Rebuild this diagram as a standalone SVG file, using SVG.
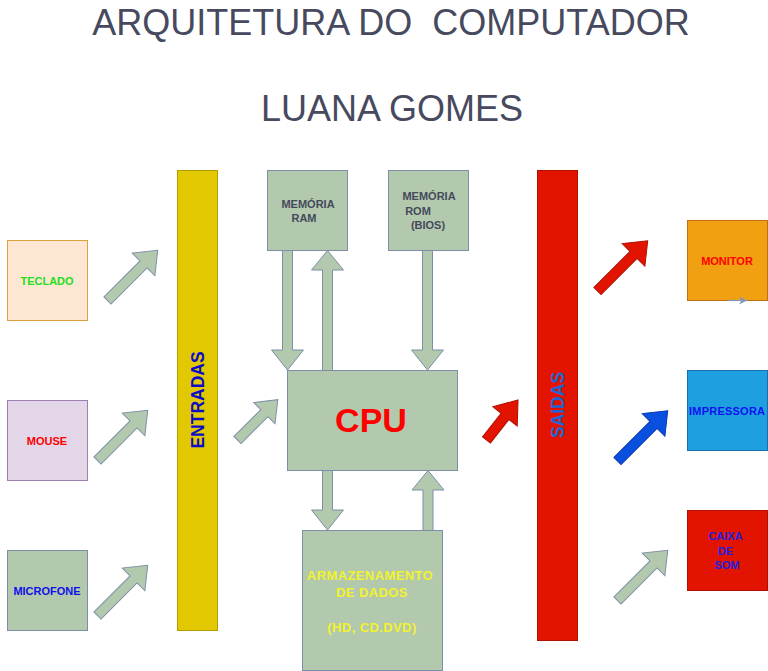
<svg xmlns="http://www.w3.org/2000/svg" xmlns:xlink="http://www.w3.org/1999/xlink" width="768" height="671" viewBox="0 0 768 671">
<style>
.t{font-family:"Liberation Sans",Arial,sans-serif;font-weight:bold;text-anchor:middle}
.title{font-family:"Liberation Sans",Arial,sans-serif;font-size:36px;fill:#474a5e;text-anchor:middle;white-space:pre}
.s11{font-size:11px}
.g{fill:#b3c9ad;stroke:#7d8fa8;stroke-width:1}
.ga{fill:#b3c9ad;stroke:#7d8fa8;stroke-width:1}
.ra{fill:#e21400;stroke:#b01000;stroke-width:1}
.ba{fill:#0a50e0;stroke:#0838b0;stroke-width:1}
</style>
<defs>
<path id="a71" d="M0,-5 H51 V-16 L71,0 L51,16 V5 H0 Z"/>
<path id="a57" d="M0,-5 H38 V-15 L57,0 L38,15 V5 H0 Z"/>
<path id="a51" d="M0,-5 H30 V-15.5 L51,0 L30,15.5 V5 H0 Z"/>
<marker id="m" viewBox="0 0 10 10" refX="10" refY="5" markerWidth="9" markerHeight="8" markerUnits="userSpaceOnUse" orient="auto">
<path d="M0,0 L10,5 L0,10 L3,5 Z" fill="#8097b8"/>
</marker>
</defs>
<rect width="768" height="671" fill="#ffffff"/>

<text class="title" x="391" y="35" xml:space="preserve">ARQUITETURA DO  COMPUTADOR</text>
<text class="title" x="392" y="121">LUANA GOMES</text>

<g id="teclado">
<rect x="7.5" y="240.5" width="80" height="80" fill="#fde6d2" stroke="#dca03c"/>
<text class="t s11" x="47" y="285" fill="#20e020">TECLADO</text>
</g>
<g id="mouse">
<rect x="7.5" y="400.5" width="80" height="80" fill="#e2d6e8" stroke="#9e80b0"/>
<text class="t s11" x="47" y="445" fill="#ff0000">MOUSE</text>
</g>
<g id="microfone">
<rect x="7.5" y="550.5" width="80" height="80" class="g"/>
<text class="t s11" x="47" y="595" fill="#1010e8">MICROFONE</text>
</g>
<g id="entradas">
<rect x="177.5" y="170.5" width="40" height="460" fill="#e2c800" stroke="#b49c00"/>
<text class="t" transform="translate(204.3,400) rotate(-90)" font-size="17.5" fill="#0c0cc8">ENTRADAS</text>
</g>
<g id="ram">
<rect x="267.5" y="170.5" width="80" height="80" class="g"/>
<text class="t s11" x="308" y="208" fill="#454a5c">MEMÓRIA</text>
<text class="t s11" x="304" y="222" fill="#454a5c">RAM</text>
</g>
<g id="rom">
<rect x="388.5" y="170.5" width="80" height="80" class="g"/>
<text class="t s11" x="429" y="200" fill="#454a5c">MEMÓRIA</text>
<text class="t s11" x="418" y="215" fill="#454a5c">ROM</text>
<text class="t s11" x="428" y="229" fill="#454a5c">(BIOS)</text>
</g>
<g id="cpu">
<rect x="287.5" y="370.5" width="170" height="100" class="g"/>
<text class="t" x="371" y="432" font-size="34" fill="#ff0000">CPU</text>
</g>
<g id="armazenamento">
<rect x="302.5" y="530.5" width="140" height="140" class="g"/>
<text class="t" x="370" y="580" font-size="13" letter-spacing="0.4" fill="#f2f230">ARMAZENAMENTO</text>
<text class="t" x="372" y="597" font-size="13" letter-spacing="0.4" fill="#f2f230">DE DADOS</text>
<text class="t" x="372" y="632" font-size="13" letter-spacing="0.4" fill="#f2f230">(HD, CD.DVD)</text>
</g>
<g id="saidas">
<rect x="537.5" y="170.5" width="40" height="470" fill="#e21400" stroke="#b01000"/>
<text class="t" transform="translate(564,405) rotate(-90)" font-size="17.5" fill="#1e64d2">SAIDAS</text>
</g>
<g id="monitor">
<rect x="687.5" y="220.5" width="80" height="80" fill="#f0a010" stroke="#c07010"/>
<text class="t s11" x="727" y="265" fill="#ff0000">MONITOR</text>
</g>
<g id="impressora">
<rect x="687.5" y="370.5" width="80" height="80" fill="#1ea0e0" stroke="#1470b0"/>
<text class="t s11" x="727" y="415" fill="#1010f0" textLength="76" lengthAdjust="spacing">IMPRESSORA</text>
</g>
<g id="caixa">
<rect x="687.5" y="510.5" width="80" height="80" fill="#e21400" stroke="#b01000"/>
<text class="t s11" x="725.5" y="540" fill="#2020e0">CAIXA</text>
<text class="t s11" x="725.5" y="555" fill="#2020e0">DE</text>
<text class="t s11" x="727" y="569" fill="#2020e0">SOM</text>
</g>

<g id="connectors">
<use xlink:href="#a71" class="ga" transform="translate(107.5,300.5) rotate(-45)"/>
<use xlink:href="#a71" class="ga" transform="translate(97.5,460.5) rotate(-45)"/>
<use xlink:href="#a71" class="ga" transform="translate(97.5,615.5) rotate(-45)"/>
<use xlink:href="#a57" class="ga" transform="translate(237.5,440) rotate(-45)"/>
<use xlink:href="#a51" class="ra" transform="translate(486.5,440) rotate(-51.8)"/>
<use xlink:href="#a71" class="ra" transform="translate(597.5,291) rotate(-45)"/>
<use xlink:href="#a71" class="ba" transform="translate(617.5,461) rotate(-45)"/>
<use xlink:href="#a71" class="ga" transform="translate(617.5,600.5) rotate(-45)"/>
<polygon class="ga" points="282.5,250.5 292.5,250.5 292.5,350 303.5,350 287.5,370 271.5,350 282.5,350"/>
<polygon class="ga" points="322.5,370.5 332.5,370.5 332.5,270 343.5,270 327.5,250.5 311.5,270 322.5,270"/>
<polygon class="ga" points="422.5,250.5 432.5,250.5 432.5,350 443.5,350 427.5,370 411.5,350 422.5,350"/>
<polygon class="ga" points="322.5,470.5 332.5,470.5 332.5,510 343.5,510 327.5,530 311.5,510 322.5,510"/>
<polygon class="ga" points="423,530.5 433,530.5 433,490 444,490 428,470.5 412,490 423,490"/>
<line x1="728" y1="300.5" x2="747" y2="300.5" stroke="#8097b8" stroke-width="1.2" marker-end="url(#m)"/>
</g>
</svg>
